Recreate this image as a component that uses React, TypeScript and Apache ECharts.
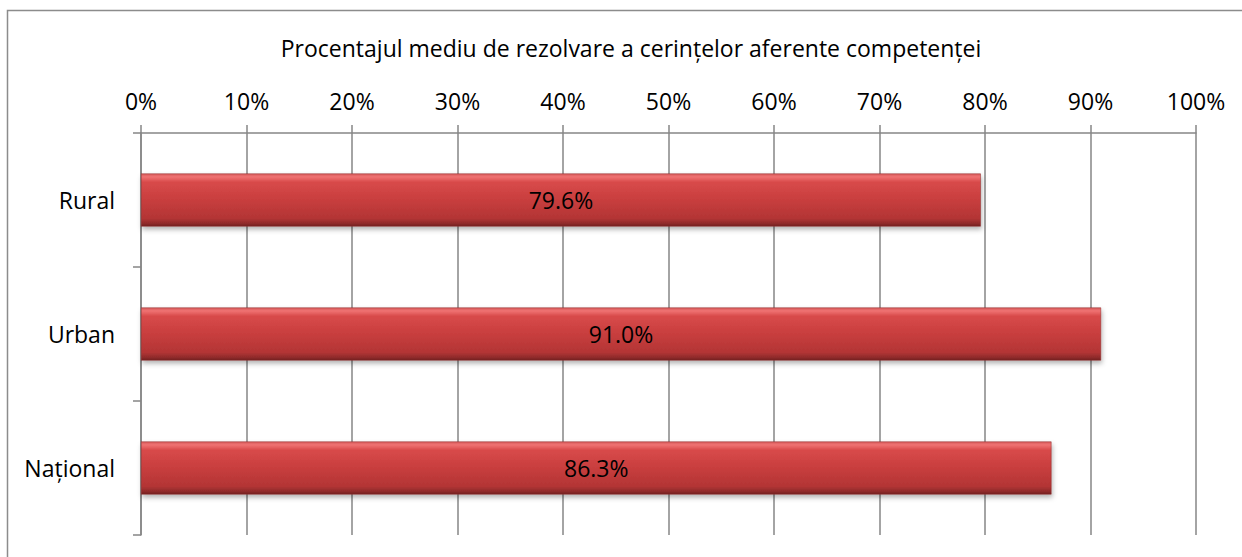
import React, { useEffect, useRef } from "react";
import * as echarts from "echarts";

const categories = ["Rural", "Urban", "Național"];
const values = [79.6, 91.0, 86.3];
const xTicks = [0, 10, 20, 30, 40, 50, 60, 70, 80, 90, 100];
const titleText = "Procentajul mediu de rezolvare a cerințelor aferente competenței";

const FONT = "'Open Sans', sans-serif";
const FS = 23;

export default function App() {
  const ref = useRef<HTMLDivElement>(null);
  useEffect(() => {
    if (!ref.current) return;
    const chart = echarts.init(ref.current, null, { renderer: "svg" });
    chart.setOption({
      animation: false,
      backgroundColor: "#ffffff",
      graphic: [
        {
          type: "rect",
          shape: { x: 7.5, y: 10.5, width: 1300, height: 600 },
          style: { fill: "none", stroke: "#8c8c8c", lineWidth: 1.5 },
          silent: true,
        },
        {
          type: "text",
          x: 631,
          y: 48,
          style: {
            text: titleText,
            font: `${FS}px ${FONT}`,
            fill: "#000000",
            align: "center",
            verticalAlign: "middle",
          },
        },
      ],
      grid: { left: 141, right: 46, top: 133, bottom: 22, containLabel: false },
      xAxis: {
        type: "value",
        position: "top",
        min: xTicks[0],
        max: xTicks[xTicks.length - 1],
        interval: 10,
        axisLine: { show: true, lineStyle: { color: "#868686", width: 1.5 } },
        axisTick: { show: true, length: 8, lineStyle: { color: "#868686", width: 1.5 } },
        splitLine: { show: true, lineStyle: { color: "#868686", width: 1.5 } },
        axisLabel: {
          formatter: (v: number) => `${v}%`,
          color: "#000000",
          fontSize: FS,
          fontFamily: FONT,
          margin: 21,
        },
      },
      yAxis: {
        type: "category",
        data: categories,
        inverse: true,
        axisLine: { show: true, lineStyle: { color: "#868686", width: 1.5 } },
        axisTick: { show: true, length: 8, lineStyle: { color: "#868686", width: 1.5 } },
        axisLabel: {
          color: "#000000",
          fontSize: FS,
          fontFamily: FONT,
          margin: 26,
        },
      },
      series: [
        {
          type: "bar",
          data: values,
          barWidth: 53,
          itemStyle: {
            color: new echarts.graphic.LinearGradient(0, 0, 0, 1, [
              { offset: 0, color: "#d65a5a" },
              { offset: 0.06, color: "#f07272" },
              { offset: 0.16, color: "#d84a4a" },
              { offset: 0.5, color: "#c83e3e" },
              { offset: 0.85, color: "#b33535" },
              { offset: 0.95, color: "#8e2a2a" },
              { offset: 1, color: "#702020" },
            ]),
            borderColor: "#8a2a2a",
            borderWidth: 0.5,
            shadowColor: "rgba(0,0,0,0.3)",
            shadowBlur: 5,
            shadowOffsetY: 3,
            shadowOffsetX: 1,
          },
          label: {
            show: true,
            position: "inside",
            formatter: (p: any) => `${p.value.toFixed(1)}%`,
            color: "#000000",
            fontSize: FS,
            fontFamily: FONT,
          },
        },
      ],
    });
    return () => chart.dispose();
  }, []);
  return (
    <div
      ref={ref}
      style={{ position: "absolute", left: 0, top: 0, width: 1242, height: 557 }}
    />
  );
}
